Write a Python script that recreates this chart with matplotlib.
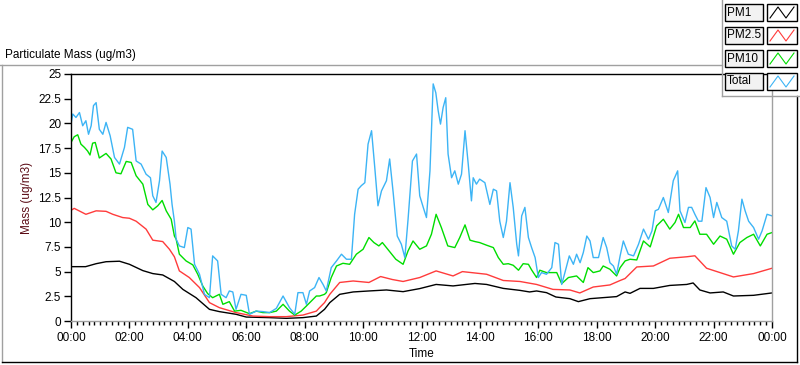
import matplotlib.pyplot as plt
from matplotlib.lines import Line2D
from matplotlib.patches import Rectangle
from matplotlib.ticker import MultipleLocator

plt.rcParams['font.family'] = ['Liberation Sans', 'DejaVu Sans']
plt.rcParams['font.size'] = 8

# time in hours since 00:00
pm1_t = [0, 0.5, 0.86, 1.2, 1.66, 2.0, 2.46, 2.8, 3.14, 3.54, 3.83, 4.28, 4.74, 5.08, 5.65, 6.0,
         6.8, 7.37, 7.94, 8.4, 8.68, 8.86, 9.2, 9.66, 10.2, 10.8, 11.37, 11.94, 12.5, 13.08, 13.83,
         14.23, 14.8, 15.37, 15.7, 15.94, 16.28, 16.6, 17.08, 17.37, 17.77, 18.2, 18.68, 18.97,
         19.14, 19.48, 19.94, 20.5, 21.08, 21.3, 21.53, 21.88, 22.33, 22.68, 23.37, 24.0]
pm1 = [5.5, 5.5, 5.8, 6.0, 6.05, 5.74, 5.1, 4.8, 4.66, 4.0, 3.2, 2.36, 1.18, 0.95, 0.68, 0.4,
       0.34, 0.27, 0.34, 0.5, 1.18, 1.86, 2.7, 2.94, 3.04, 3.14, 2.97, 3.28, 3.7, 3.55, 3.8,
       3.7, 3.3, 3.1, 2.94, 3.04, 2.87, 2.43, 2.26, 1.96, 2.26, 2.36, 2.47, 2.94,
       2.8, 3.3, 3.3, 3.6, 3.7, 3.85, 3.14, 2.84, 2.94, 2.53, 2.6, 2.84]

pm25_t = [0, 0.11, 0.51, 0.86, 1.2, 1.43, 1.77, 2.0, 2.23, 2.57, 2.8, 3.14, 3.37, 3.54, 3.71, 4.05,
          4.4, 4.74, 5.08, 5.65, 6.23, 6.8, 7.37, 7.94, 8.4, 8.51, 8.68, 8.86, 9.2, 9.66, 10.2,
          10.6, 11.0, 11.37, 11.94, 12.5, 13.08, 13.4, 13.83, 14.23, 14.8, 15.37, 15.94, 16.5,
          17.08, 17.42, 17.88, 18.45, 18.8, 18.97, 19.37, 19.94, 20.5, 21.08, 21.36, 21.76, 22.22,
          22.68, 23.37, 24.0]
pm25 = [11.2, 11.4, 10.8, 11.15, 11.1, 10.8, 10.47, 10.4, 10.1, 9.3, 8.18, 8.04, 7.26, 6.5, 5.07, 4.4,
        3.38, 1.86, 1.35, 0.85, 0.5, 0.44, 0.44, 0.6, 1.0, 1.35, 1.86, 2.7, 3.9, 4.05, 3.9,
        4.5, 4.2, 4.0, 4.4, 5.07, 4.56, 5.0, 4.86, 4.73, 4.1, 4.0, 3.7, 3.2,
        3.14, 2.84, 3.44, 3.65, 4.1, 4.3, 5.47, 5.57, 6.35, 6.5, 6.6, 5.34, 4.9,
        4.46, 4.8, 5.34]

pm10_t = [0, 0.11, 0.23, 0.34, 0.46, 0.57, 0.65, 0.74, 0.83, 0.97, 1.2, 1.37, 1.54, 1.71, 1.89,
          2.06, 2.23, 2.46, 2.63, 2.8, 2.97, 3.12, 3.26, 3.43, 3.54, 3.6, 3.71, 3.94, 4.17, 4.34,
          4.51, 4.68, 4.85, 5.08, 5.2, 5.42, 5.6, 5.82, 6.11, 6.34, 6.57, 6.8, 7.03, 7.26, 7.48,
          7.66, 7.88, 8.06, 8.4, 8.51, 8.68, 8.74, 8.91, 9.09, 9.31, 9.54, 9.77, 10.0, 10.2,
          10.37, 10.54, 10.66, 10.89, 11.12, 11.37, 11.54, 11.71, 11.94, 12.17, 12.34, 12.5,
          12.68, 12.9, 13.14, 13.31, 13.49, 13.66, 13.83, 13.99, 14.23, 14.46, 14.63, 14.8,
          14.97, 15.14, 15.32, 15.48, 15.66, 15.77, 15.94, 16.05, 16.28, 16.63, 16.8, 17.03,
          17.31, 17.54, 17.7, 17.88, 18.11, 18.22, 18.45, 18.68, 18.8, 18.97, 19.14, 19.37,
          19.6, 19.83, 20.05, 20.28, 20.5, 20.68, 20.8, 20.97, 21.2, 21.36, 21.53, 21.76, 22.0,
          22.22, 22.45, 22.68, 22.9, 23.14, 23.37, 23.6, 23.83, 24.0]
pm10 = [18.07, 18.65, 18.85, 17.9, 17.57, 17.2, 16.8, 18.0, 18.07, 16.5, 16.96, 16.4, 15.0, 14.9, 16.15,
        16.05, 14.7, 13.85, 11.8, 11.25, 11.66, 12.2, 11.15, 10.3, 8.6, 8.28, 6.76, 6.08, 5.68, 4.73,
        3.55, 2.77, 2.36, 2.7, 1.69, 1.96, 1.0, 1.08, 0.74, 1.0, 0.85, 0.85, 1.0, 1.69, 1.0,
        0.6, 1.0, 1.52, 2.53, 2.53, 2.7, 2.87, 4.4, 5.57, 5.84, 5.74, 6.76, 7.26, 8.45,
        7.94, 7.6, 7.94, 7.1, 6.25, 5.74, 7.1, 8.1, 7.26, 7.6, 8.78, 10.8,
        9.46, 7.6, 7.43, 8.45, 9.73, 8.18, 8.04, 7.94, 7.67, 7.43, 6.42, 5.74,
        5.8, 5.64, 5.14, 5.8, 5.74, 5.17, 4.4, 5.14, 4.9, 4.9, 3.78, 4.4,
        4.56, 3.9, 5.4, 4.9, 5.07, 5.57, 5.24, 4.56, 5.4, 6.08, 6.25, 6.18,
        8.1, 7.5, 9.63, 10.3, 9.3, 9.97, 10.8, 9.46, 9.46, 10.13, 8.78, 8.78, 7.77,
        8.6, 8.28, 6.76, 7.94, 8.45, 8.78, 7.6, 8.78, 8.95]

total_t = [0, 0.06, 0.17, 0.29, 0.4, 0.51, 0.6, 0.69, 0.77, 0.86, 0.97, 1.09, 1.2, 1.34, 1.49,
           1.66, 1.83, 1.94, 2.11, 2.23, 2.4, 2.57, 2.72, 2.8, 2.91, 3.03, 3.12, 3.26, 3.39, 3.46,
           3.54, 3.6, 3.71, 3.88, 4.0, 4.11, 4.23, 4.4, 4.57, 4.74, 4.85, 5.02, 5.14, 5.31, 5.42,
           5.54, 5.65, 5.82, 6.0, 6.11, 6.34, 6.57, 6.8, 7.03, 7.26, 7.48, 7.66, 7.77, 7.94, 8.06,
           8.17, 8.34, 8.49, 8.63, 8.74, 8.91, 9.09, 9.26, 9.43, 9.6, 9.71, 9.83, 9.94, 10.06,
           10.17, 10.29, 10.4, 10.51, 10.63, 10.8, 10.91, 11.03, 11.17, 11.31, 11.43, 11.54,
           11.69, 11.83, 11.94, 12.06, 12.17, 12.29, 12.4, 12.49, 12.57, 12.65, 12.74, 12.83,
           12.91, 13.03, 13.14, 13.26, 13.37, 13.49, 13.6, 13.71, 13.77, 13.88, 13.99, 14.17,
           14.34, 14.46, 14.57, 14.68, 14.8, 14.91, 15.03, 15.14, 15.26, 15.32, 15.43, 15.54,
           15.66, 15.77, 15.89, 16.0, 16.11, 16.28, 16.46, 16.57, 16.69, 16.8, 16.91, 17.06,
           17.2, 17.31, 17.43, 17.54, 17.66, 17.77, 17.88, 18.06, 18.22, 18.34, 18.45, 18.57,
           18.68, 18.8, 18.91, 19.08, 19.26, 19.43, 19.6, 19.77, 19.89, 20.0, 20.11, 20.28,
           20.45, 20.62, 20.77, 20.85, 21.02, 21.14, 21.25, 21.36, 21.48, 21.6, 21.74, 21.88,
           22.0, 22.11, 22.28, 22.45, 22.62, 22.74, 22.85, 22.97, 23.08, 23.2, 23.37, 23.54,
           23.66, 23.83, 24.0]
total = [19.93, 20.95, 20.6, 21.1, 19.76, 20.27, 18.9, 19.76, 21.8, 22.1, 19.4, 18.9, 20.1, 18.75, 16.55,
         15.88, 17.57, 19.6, 19.4, 16.2, 15.88, 14.86, 14.5, 12.67, 12.0, 14.2, 17.2, 16.55, 13.85, 11.8,
         10.1, 8.28, 7.6, 7.43, 9.46, 9.3, 5.74, 4.73, 2.7, 2.36, 6.59, 6.08, 2.7, 2.36, 3.04,
         2.94, 1.18, 2.7, 2.6, 0.68, 1.0, 0.95, 0.85, 1.28, 2.53, 1.35, 0.68, 2.87, 2.87, 1.69,
         3.04, 3.38, 4.4, 3.7, 3.04, 5.4, 6.08, 6.76, 6.25, 6.25, 10.8, 13.34, 13.7, 14.0,
         17.9, 19.26, 15.54, 11.66, 13.17, 14.2, 16.4, 13.0, 8.6, 7.77, 6.42, 10.3,
         16.2, 16.9, 12.67, 11.5, 10.47, 15.2, 24.0, 23.1, 21.3, 19.93, 21.6, 22.6,
         16.9, 14.5, 15.2, 13.85, 14.86, 19.26, 15.88, 12.16, 14.5, 13.85, 14.36, 14.0,
         11.8, 13.34, 13.17, 10.1, 8.45, 10.1, 14.0, 11.5, 7.77, 6.59, 10.64, 11.5,
         8.45, 7.43, 6.42, 4.4, 4.9, 4.73, 5.4, 7.94, 7.77, 3.7, 4.9, 6.59,
         5.74, 6.76, 5.9, 6.93, 8.6, 8.1, 6.42, 6.42, 8.45, 7.43, 5.9, 5.57,
         4.73, 6.59, 8.1, 6.76, 6.59, 7.77, 9.3, 8.28, 9.12, 11.15, 11.3, 12.5,
         10.98, 14.2, 15.2, 11.15, 9.97, 11.5, 11.5, 10.8, 10.1, 10.1, 13.5, 12.5,
         10.47, 12.0, 10.47, 10.1, 7.6, 7.26, 9.12, 12.33, 11.15, 10.1, 9.46, 8.28,
         9.12, 10.8, 10.64]

names = ['PM1', 'PM2.5', 'PM10', 'Total']
colors = ['black', '#ff3b3b', '#00dd00', '#3cb4f5']
x_ticks = list(range(0, 25, 2))
x_labels = ['00:00', '02:00', '04:00', '06:00', '08:00', '10:00', '12:00',
            '14:00', '16:00', '18:00', '20:00', '22:00', '00:00']
y_ticks = [0, 2.5, 5, 7.5, 10, 12.5, 15, 17.5, 20, 22.5, 25]
y_labels = ['0', '2.5', '5', '7.5', '10', '12.5', '15', '17.5', '20', '22.5', '25']

W, H = 800, 365
fig = plt.figure(figsize=(8, 3.65), dpi=100)


def fx(px):
    return px / W


def fy(py):
    return 1 - py / H


ax = fig.add_axes([fx(71), fy(321), fx(772) - fx(71), fy(74) - fy(321)])
series = [(pm1_t, pm1), (pm25_t, pm25), (pm10_t, pm10), (total_t, total)]
for (t, v), c, n in zip(series, colors, names):
    ax.plot(t, v, color=c, lw=1.0, label=n)

ax.set_xlim(0, 24)
ax.set_ylim(0, 25)
ax.set_xticks(x_ticks)
ax.set_xticklabels(x_labels)
ax.xaxis.set_minor_locator(MultipleLocator(0.2))
ax.set_yticks(y_ticks)
ax.set_yticklabels(y_labels)
ax.tick_params(axis='x', which='major', length=5, width=1, pad=3, labelsize=8.5)
ax.tick_params(axis='x', which='minor', length=3, width=1)
ax.tick_params(axis='y', length=5, width=1, pad=2, labelsize=8.5)
ax.spines['left'].set_color('black')
ax.spines['top'].set_color('black')
ax.spines['right'].set_color('#a0a0a0')
ax.spines['bottom'].set_color('#a0a0a0')
for s in ax.spines.values():
    s.set_linewidth(1.0)
ax.set_xlabel('Time', labelpad=3, fontsize=8.5)
ax.set_ylabel('Mass (ug/m3)', color='#5a0a14', labelpad=4, fontsize=8.5)

# title and frame
fig.text(fx(5), fy(55), 'Particulate Mass (ug/m3)', ha='left', va='center', fontsize=8.5)
fig.add_artist(Line2D([0, fx(722)], [fy(65), fy(65)], color='#a0a0a0', lw=1))
fig.add_artist(Line2D([fx(2), fx(2)], [fy(65), fy(362)], color='#a0a0a0', lw=1))
fig.add_artist(Line2D([fx(2), fx(797)], [fy(362), fy(362)], color='black', lw=1))
fig.add_artist(Line2D([fx(797), fx(797)], [fy(96), fy(362)], color='black', lw=1))

# legend panel
fig.add_artist(Line2D([fx(722), fx(722)], [fy(0), fy(96)], color='#a0a0a0', lw=1))
fig.add_artist(Line2D([fx(722), fx(800)], [fy(96), fy(96)], color='#a0a0a0', lw=1))
row_tops = [4, 27, 50, 73]
for top, n, c in zip(row_tops, names, colors):
    fig.add_artist(Rectangle((fx(725), fy(top + 17)), fx(38), fy(top) - fy(top + 17),
                             facecolor='#f2f2f2', edgecolor='black', lw=1))
    fig.text(fx(727), fy(top + 8.5), n, ha='left', va='center', fontsize=8.5)
    fig.add_artist(Rectangle((fx(767), fy(top + 17)), fx(30), fy(top) - fy(top + 17),
                             facecolor='white', edgecolor='black', lw=1))
    zx = [770, 778, 786, 794]
    zy = [top + 14, top + 3, top + 14, top + 3]
    fig.add_artist(Line2D([fx(v) for v in zx], [fy(v) for v in zy], color=c, lw=0.8))

fig.savefig('out.png', dpi=100)
